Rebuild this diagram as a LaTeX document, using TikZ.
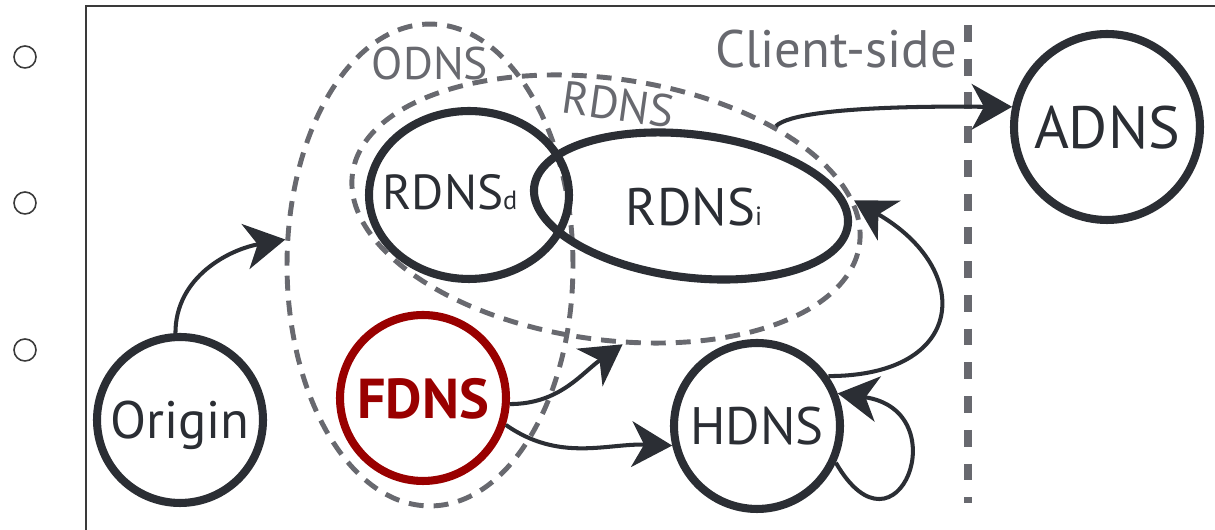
\documentclass[tikz,border=0pt]{standalone}
\usepackage{fontspec}
\setmainfont{PT Sans}
\usepackage{tikz}
\usetikzlibrary{arrows.meta,positioning,shapes.geometric}
\definecolor{ink}{HTML}{2B2E34}
\definecolor{ash}{HTML}{68696F}
\definecolor{fred}{HTML}{990000}
\definecolor{rim}{HTML}{3A3A3A}
\newcommand{\subtag}[1]{{\fontsize{15}{15}\selectfont #1}}

\begin{document}
\begin{tikzpicture}[
  x=0.02cm,y=0.02cm,
  >={Stealth[length=23pt,width=26pt,inset=7pt]},
  server/.style={draw=ink,line width=4.6pt,circle,inner sep=0pt,minimum size=3.32cm,
    text depth=0pt,text=ink,font=\fontsize{30}{30}\selectfont},
  resolver/.style={draw=ink,line width=4.6pt,ellipse,inner sep=0pt},
  zone/.style={draw=ash,line width=2.8pt,ellipse,inner sep=0pt,dash pattern=on 8.5pt off 5.7pt},
  tag/.style={text=ash,inner sep=0pt,text depth=0pt,font=\fontsize{26}{26}\selectfont},
  rtext/.style={text=ink,inner sep=0pt,text depth=0pt,font=\fontsize{28}{28}\selectfont},
  bullet/.style={draw=rim,line width=0.9pt,circle,inner sep=0pt,minimum size=0.44cm},
  every edge/.style={draw=ink,line width=2.3pt,->}
]
\useasboundingbox (0,0) rectangle (1215,530);

% margin bullets and frame
\foreach \y [count=\i] in {473,327,180}
  \node[bullet] (bullet\i) at (25,\y) {};
\draw[rim,line width=1.4pt] (86,0) -- (86,524) -- (1215,524);

% groups
\node[zone,minimum width=5.72cm,minimum height=9.64cm] (odns) at (430,265) {};
\node[zone,rotate=-8,minimum width=10.24cm,minimum height=5.22cm] (rdns) at (606,321) {};
\node[tag] (odnslabel) at (430,467) {ODNS};
\node[tag,rotate=-8] (rdnslabel) at (618,426) {RDNS};

% resolvers
\node[resolver,minimum width=4cm,minimum height=3.36cm] (rdnsd) at (469,335) {};
\node[resolver,rotate=-7,minimum width=6.32cm,minimum height=2.86cm] (rdnsi) at (691,324) {};
\node[rtext] (rdnsdtext) at (450,338) {RDNS\subtag{d}};
\node[rtext,font=\fontsize{30}{30}\selectfont] (rdnsitext) at (694,323) {RDNS\subtag{i}};

% servers
\node[server] (origin) at (180,110) {Origin};
\node[server,draw=fred,text=fred,font=\bfseries\fontsize{32}{32}\selectfont] (fdns) at (423,132) {FDNS};
\node[server] (hdns) at (757,104) {HDNS};
\node[server,minimum size=3.72cm,font=\fontsize{34}{34}\selectfont] (adns) at (1107,403) {ADNS};

% client side border
\node[tag,font=\fontsize{30}{30}\selectfont] (client) at (836,481) {Client-side};
\draw[ash,line width=4.5pt,dash pattern=on 9.6pt off 9.6pt] (968,505) -- (968,27);

\path (origin.93) edge[out=90,in=190] (odns.170)
      (fdns.-4) edge[out=0,in=215] (rdns.-75)
      (fdns.-18) edge[out=-35,in=178] (hdns.193)
      (hdns.35) edge[out=0,in=-30,looseness=2] (rdns.10)
      (hdns.-25) edge[out=-60,in=-8,looseness=4.5] (hdns.22)
      (rdns.34) edge[out=45,in=180,looseness=0.35] (adns.168);
\end{tikzpicture}
\end{document}
